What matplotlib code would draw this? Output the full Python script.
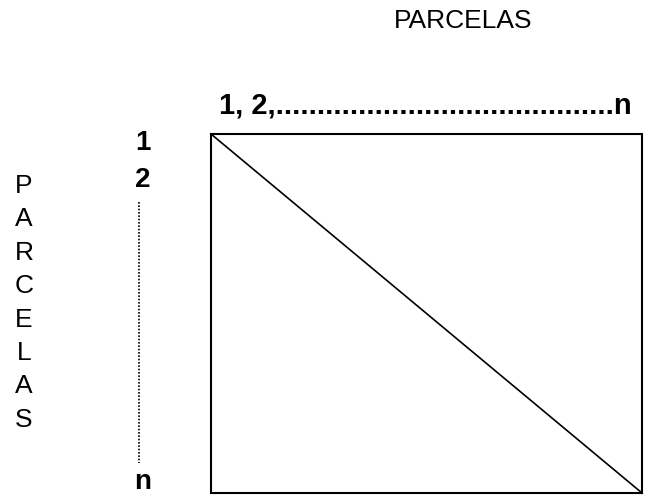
import matplotlib
matplotlib.use("Agg")
import matplotlib.pyplot as plt
from matplotlib.patches import Rectangle

# textos del diagrama
titulo = "PARCELAS"
etiqueta_columnas = "1, 2," + "." * 41 + "n"
etiquetas_filas = ["1", "2", "n"]
letras_verticales = list("PARCELAS")

W, H = 645, 496
fig = plt.figure(figsize=(W / 100, H / 100), dpi=100)
ax = fig.add_axes([0, 0, 1, 1])
ax.set_xlim(0, W)
ax.set_ylim(H, 0)
ax.axis("off")

fuente = "Liberation Sans"

# Cuadro de la matriz y su diagonal
x0, y0, x1, y1 = 211, 134, 642, 493
ax.add_patch(Rectangle((x0, y0), x1 - x0, y1 - y0, fill=False,
                       edgecolor="black", linewidth=1.5))
ax.plot([x0, x1], [y0, y1], color="black", linewidth=1.2)

# Titulo superior
ax.text(463, 21, titulo, fontsize=19, family=fuente,
        ha="center", va="center")

# Etiqueta de columnas
ax.text(219, 105, etiqueta_columnas, fontsize=21, family=fuente,
        fontweight="bold", ha="left", va="center")

# Etiquetas de filas
filas_y = [143, 180, 482]
for lab, y in zip(etiquetas_filas, filas_y):
    ax.text(143, y, lab, fontsize=20, family=fuente,
            fontweight="bold", ha="center", va="center")

# linea punteada entre 2 y n
ax.plot([139, 139], [202, 463], color="black", linewidth=1.2,
        linestyle=(0, (1, 1)))

# Letras verticales a la izquierda
for i, letra in enumerate(letras_verticales):
    ax.text(24, 186 + i * 33.4, letra, fontsize=19, family=fuente,
            ha="center", va="center")

fig.savefig("out.png", dpi=100)
